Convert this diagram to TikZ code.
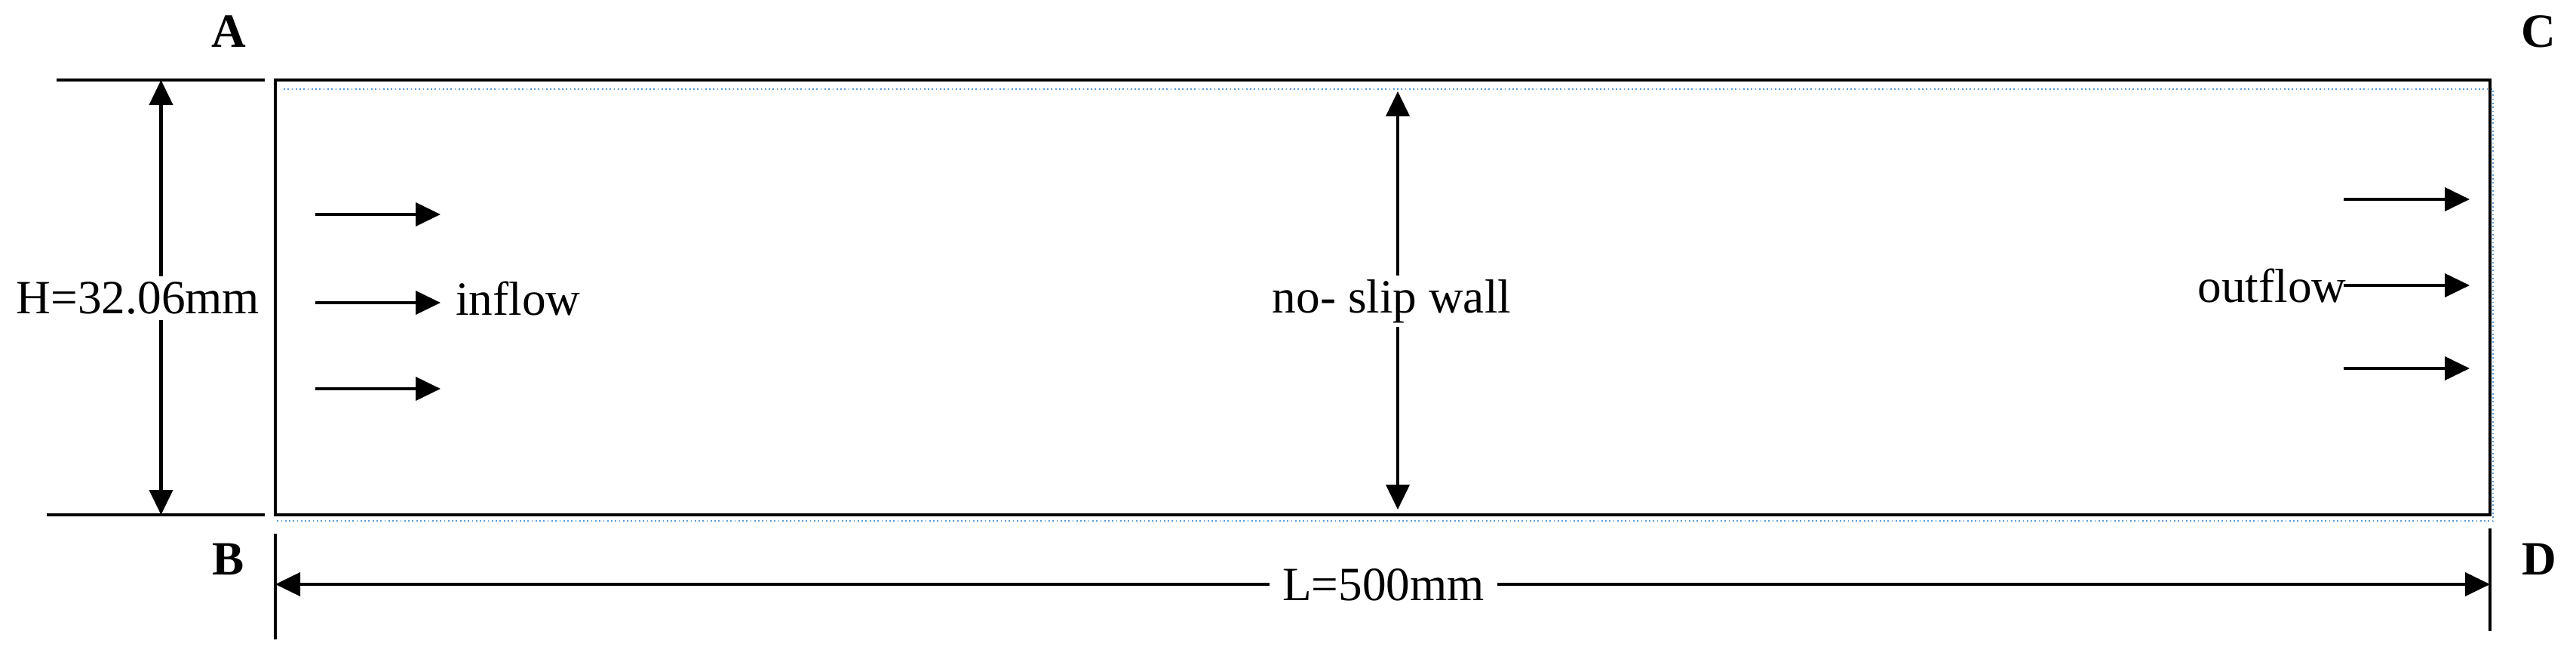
\documentclass[tikz,border=0pt]{standalone}
\usepackage{fontspec}
\setmainfont{Liberation Serif}
\usetikzlibrary{arrows.meta, positioning}
\tikzstyle{wall} = [line width=1.2pt]
\tikzstyle{arrow} = [line width=1.15pt, -{Triangle[length=0.33cm, width=0.31cm]}]
\tikzstyle{dimarrow} = [line width=1.15pt, {Triangle[length=0.33cm, width=0.31cm]}-{Triangle[length=0.33cm, width=0.31cm]}]
\tikzstyle{dimtext} = [fill=white, inner sep=2pt, font=\fontsize{18}{21}\selectfont]
\tikzstyle{flowtext} = [inner sep=1pt, font=\fontsize{18}{21}\selectfont]
\tikzstyle{cornertag} = [inner sep=0pt, font=\fontsize{18}{21}\selectfont\bfseries]
\tikzstyle{guide} = [draw={rgb,255:red,91;green,155;blue,213}, line width=0.5pt, densely dotted]

\begin{document}
\begin{tikzpicture}
	\useasboundingbox (0,0) rectangle (34.15,8.68);
	\coordinate (ChannelSW) at (3.65,1.86);
	\coordinate (ChannelNE) at (33.01,7.62);
	\draw [guide] (3.76,7.50) -- (33.05,7.50) -- (33.05,1.78) -- (3.65,1.78);
	\draw [wall] (ChannelSW) rectangle (ChannelNE);
	\node (A) [cornertag] at (3.03,8.265) {A};
	\node (B) [cornertag] at (3.03,1.275) {B};
	\node (C) [cornertag] at (33.65,8.265) {C};
	\node (D) [cornertag] at (33.66,1.275) {D};
	% height of the channel
	\coordinate (HTopLeft) at (0.75,7.62);
	\coordinate (HTopRight) at (3.51,7.62);
	\coordinate (HBotLeft) at (0.62,1.86);
	\coordinate (HBotRight) at (3.51,1.86);
	\coordinate (HTop) at (2.135,7.62);
	\coordinate (HBot) at (2.135,1.86);
	\draw [wall] (HTopLeft) -- (HTopRight);
	\draw [wall] (HBotLeft) -- (HBotRight);
	\draw [dimarrow] (HTop) -- (HBot);
	\node (Height) [dimtext] at (1.83,4.73) {H=32.06mm};
	% length of the channel
	\coordinate (LTickLeftTop) at (3.65,1.61);
	\coordinate (LTickLeftBot) at (3.65,0.21);
	\coordinate (LTickRightTop) at (33.01,1.68);
	\coordinate (LTickRightBot) at (33.01,0.32);
	\coordinate (LLeft) at (3.65,0.94);
	\coordinate (LRight) at (33.01,0.94);
	\draw [wall] (LTickLeftTop) -- (LTickLeftBot);
	\draw [wall] (LTickRightTop) -- (LTickRightBot);
	\draw [dimarrow] (LLeft) -- (LRight);
	\node (Length) [dimtext, inner xsep=5pt] at (18.34,0.93) {L=500mm};
	% wall
	\coordinate (WallTop) at (18.53,7.47);
	\coordinate (WallBot) at (18.53,1.93);
	\draw [dimarrow] (WallTop) -- (WallBot);
	\node (Wall) [dimtext, inner sep=1.5pt] at (18.45,4.69) {no- slip wall};
	% inflow
	\coordinate (In1Start) at (4.18,5.84);
	\coordinate (In1End) at (5.84,5.84);
	\coordinate (In2Start) at (4.18,4.67);
	\coordinate (In2End) at (5.84,4.67);
	\coordinate (In3Start) at (4.18,3.53);
	\coordinate (In3End) at (5.84,3.53);
	\draw [arrow] (In1Start) -- (In1End);
	\draw [arrow] (In2Start) -- (In2End);
	\draw [arrow] (In3Start) -- (In3End);
	\node (Inflow) [flowtext, right = 0.16cm of In2End, yshift=0.05cm] {inflow};
	% outflow
	\coordinate (Out1Start) at (31.07,6.04);
	\coordinate (Out1End) at (32.74,6.04);
	\coordinate (Out2Start) at (31.07,4.90);
	\coordinate (Out2End) at (32.74,4.90);
	\coordinate (Out3Start) at (31.07,3.80);
	\coordinate (Out3End) at (32.74,3.80);
	\draw [arrow] (Out1Start) -- (Out1End);
	\draw [arrow] (Out2Start) -- (Out2End);
	\draw [arrow] (Out3Start) -- (Out3End);
	\node (Outflow) [flowtext] at (30.12,4.89) {outflow};
\end{tikzpicture}
\end{document}
